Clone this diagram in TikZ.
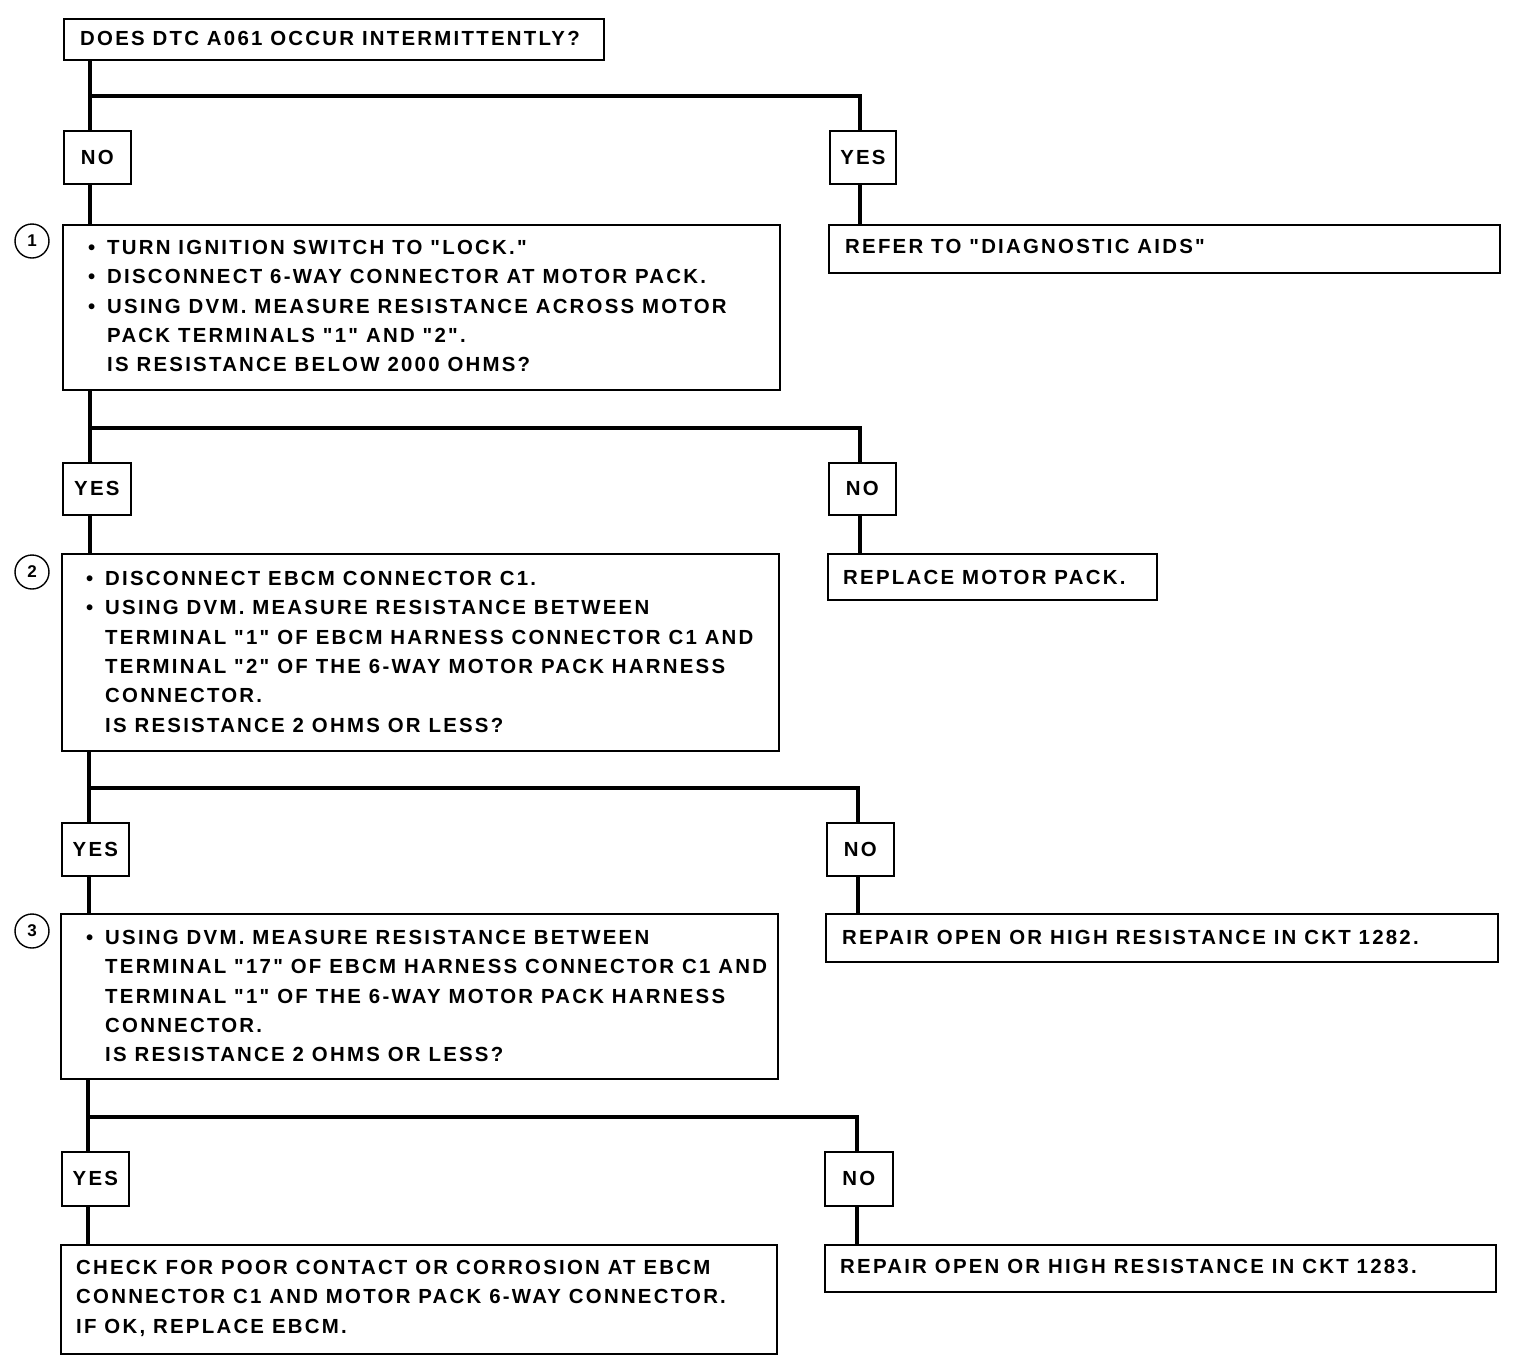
\documentclass[tikz,border=0pt]{standalone}
\usepackage{fontspec}
\setmainfont{Liberation Sans}[LetterSpace=11, Ligatures=TeXOff]
\newcommand\ftxt{\fontsize{20.4}{29.3}\selectfont\bfseries}
\newcommand\blt{\makebox[19pt][l]{•}}
\newcommand\ind{\hspace*{19pt}}
\newcommand\fr{\rule{0pt}{14.6pt}}
\begin{document}
\begin{tikzpicture}[x=1pt,y=-1pt,
  box/.style={draw, line width=1.8pt, inner sep=0pt, anchor=north west},
  txt/.style={inner sep=0pt, anchor=north west, align=left, font=\ftxt},
  lbl/.style={draw, line width=1.8pt, inner sep=0pt, anchor=north west, font=\ftxt},
  circ/.style={draw, circle, line width=1.4pt, minimum size=34pt, inner sep=0pt, font=\fontsize{17}{19}\selectfont\bfseries},
  conn/.style={line width=3.6pt}]
\useasboundingbox (0,0) rectangle (1520,1360);

% boxes
\node[box, minimum width=540, minimum height=41] (top) at (63,18) {};
\node[txt] (ttop) at (80,30.7) {\fr DOES DTC A061 OCCUR INTERMITTENTLY?};

\node[lbl, minimum width=67, minimum height=53] (no1) at (63,130) {NO};
\node[lbl, minimum width=66, minimum height=53] (yes1) at (829,130) {YES};

\node[box, minimum width=717, minimum height=165] (b1) at (62,224) {};
\node[txt] (tb1) at (88,239.7) {\fr\blt TURN IGNITION SWITCH TO "LOCK."\\
\blt DISCONNECT 6-WAY CONNECTOR AT MOTOR PACK.\\
\blt USING DVM. MEASURE RESISTANCE ACROSS MOTOR\\
\ind PACK TERMINALS "1" AND "2".\\
\ind IS RESISTANCE BELOW 2000 OHMS?};
\node[circ] (c1) at (32,241) {1};

\node[box, minimum width=671, minimum height=48] (r1) at (828,224) {};
\node[txt] (tr1) at (845,238.7) {\fr REFER TO "DIAGNOSTIC AIDS"};

\node[lbl, minimum width=68, minimum height=52] (yes2) at (62,462) {YES};
\node[lbl, minimum width=67, minimum height=52] (no2) at (828,462) {NO};

\node[box, minimum width=717, minimum height=197] (b2) at (61,553) {};
\node[txt] (tb2) at (86,570.7) {\fr\blt DISCONNECT EBCM CONNECTOR C1.\\
\blt USING DVM. MEASURE RESISTANCE BETWEEN\\
\ind TERMINAL "1" OF EBCM HARNESS CONNECTOR C1 AND\\
\ind TERMINAL "2" OF THE 6-WAY MOTOR PACK HARNESS\\
\ind CONNECTOR.\\
\ind IS RESISTANCE 2 OHMS OR LESS?};
\node[circ] (c2) at (32,572) {2};

\node[box, minimum width=329, minimum height=46] (r2) at (827,553) {};
\node[txt] (tr2) at (843,569.7) {\fr REPLACE MOTOR PACK.};

\node[lbl, minimum width=67, minimum height=53] (yes3) at (61,822) {YES};
\node[lbl, minimum width=67, minimum height=53] (no3) at (826,822) {NO};

\node[box, minimum width=717, minimum height=165] (b3) at (60,913) {};
\node[txt] (tb3) at (86,929.7) {\fr\blt USING DVM. MEASURE RESISTANCE BETWEEN\\
\ind TERMINAL "17" OF EBCM HARNESS CONNECTOR C1 AND\\
\ind TERMINAL "1" OF THE 6-WAY MOTOR PACK HARNESS\\
\ind CONNECTOR.\\
\ind IS RESISTANCE 2 OHMS OR LESS?};
\node[circ] (c3) at (32,931) {3};

\node[box, minimum width=672, minimum height=48] (r3) at (825,913) {};
\node[txt] (tr3) at (842,929.7) {\fr REPAIR OPEN OR HIGH RESISTANCE IN CKT 1282.};

\node[lbl, minimum width=67, minimum height=54] (yes4) at (61,1151) {YES};
\node[lbl, minimum width=68, minimum height=54] (no4) at (824,1151) {NO};

\node[box, minimum width=716, minimum height=109] (b4) at (60,1244) {};
\node[txt] (tb4) at (76,1259.7) {\fr CHECK FOR POOR CONTACT OR CORROSION AT EBCM\\
CONNECTOR C1 AND MOTOR PACK 6-WAY CONNECTOR.\\
IF OK, REPLACE EBCM.};

\node[box, minimum width=671, minimum height=47] (r4) at (824,1244) {};
\node[txt] (tr4) at (840,1258.7) {\fr REPAIR OPEN OR HIGH RESISTANCE IN CKT 1283.};

% connectors
\coordinate (j1) at (90,96);
\coordinate (j2) at (90,428);
\coordinate (j3) at (89,788);
\coordinate (j4) at (88,1117);

\draw[conn] (top.south -| j1) -- (no1.north -| j1);
\draw[conn] (j1) -| (yes1.north -| 860,0);
\draw[conn] (no1.south -| j1) -- (b1.north -| j1);
\draw[conn] (yes1.south -| 860,0) -- (r1.north -| 860,0);

\draw[conn] (b1.south -| j2) -- (yes2.north -| j2);
\draw[conn] (j2) -| (no2.north -| 860,0);
\draw[conn] (yes2.south -| j2) -- (b2.north -| j2);
\draw[conn] (no2.south -| 860,0) -- (r2.north -| 860,0);

\draw[conn] (b2.south -| j3) -- (yes3.north -| j3);
\draw[conn] (j3) -| (no3.north -| 858,0);
\draw[conn] (yes3.south -| j3) -- (b3.north -| j3);
\draw[conn] (no3.south -| 858,0) -- (r3.north -| 858,0);

\draw[conn] (b3.south -| j4) -- (yes4.north -| j4);
\draw[conn] (j4) -| (no4.north -| 857,0);
\draw[conn] (yes4.south -| j4) -- (b4.north -| j4);
\draw[conn] (no4.south -| 857,0) -- (r4.north -| 857,0);
\end{tikzpicture}
\end{document}
